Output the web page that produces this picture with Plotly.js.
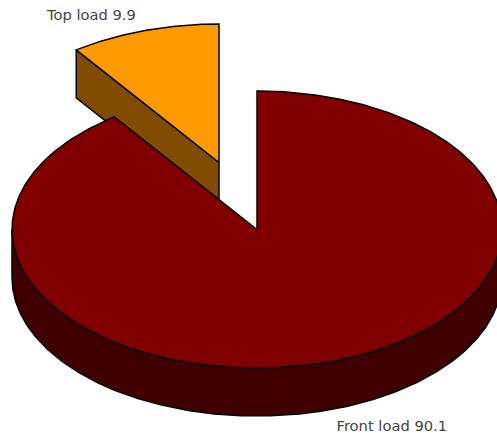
<!DOCTYPE html>
<html>
<head>
<meta charset="utf-8">
<script src="https://cdn.plot.ly/plotly-3.0.1.min.js"></script>
<style>html,body{margin:0;padding:0;background:#fff}#chart{width:497px;height:433px}</style>
</head>
<body>
<div id="chart"></div>
<script>
// Load-type shares, in the order they run clockwise from twelve o'clock
const categories = ['Front load', 'Top load'];
const shares = [90.1, 9.9];
const topColors = ['#800000', '#ff9900'];
const sideColors = ['#400000', '#804c00'];

// Projection of the tilted disc
const cx = 257, cy = 229.5, rx = 245, ry = 138.5, depth = 48;
const explode = [[0, 0], [-38, -67]];
const labelAnchors = [[47, 16], [336.5, 427]];

const total = shares.reduce((a, b) => a + b, 0);
const rad = s => s / total * 2 * Math.PI;

function rim(a0, a1, ox, oy, drop) {
  const n = Math.max(2, Math.ceil(Math.abs(a1 - a0) / 0.01));
  const xs = [], ys = [];
  for (let i = 0; i <= n; i++) {
    const a = a0 + (a1 - a0) * i / n;
    xs.push(cx + ox + rx * Math.sin(a));
    ys.push(cy + oy + drop - ry * Math.cos(a));
  }
  return [xs, ys];
}

function poly(xs, ys, fill) {
  return {
    type: 'scatter', mode: 'lines', x: xs, y: ys, fill: 'toself', fillcolor: fill,
    line: {color: '#000', width: 1.5}, hoverinfo: 'skip', showlegend: false
  };
}

// Exploded wedge: cut face first, then its top, all behind the main wedge
const a1 = rad(shares[0]);
const [ox, oy] = explode[1];
const edgeX = cx + ox + rx * Math.sin(a1), edgeY = cy + oy - ry * Math.cos(a1);
const smallTop = rim(a1, 2 * Math.PI, ox, oy, 0);
const traces = [
  poly([edgeX, cx + ox, cx + ox, edgeX, edgeX],
       [edgeY, cy + oy, cy + oy + depth, edgeY + depth, edgeY], sideColors[1]),
  poly([cx + ox, ...smallTop[0], cx + ox], [cy + oy, ...smallTop[1], cy + oy], topColors[1])
];

// Main wedge: visible outer wall along the front half, then its top
const wallTop = rim(Math.PI / 2, 3 * Math.PI / 2, 0, 0, 0);
const wallBottom = rim(3 * Math.PI / 2, Math.PI / 2, 0, 0, depth);
traces.push(poly([...wallTop[0], ...wallBottom[0], wallTop[0][0]],
                 [...wallTop[1], ...wallBottom[1], wallTop[1][0]], sideColors[0]));
const bigTop = rim(0, a1, 0, 0, 0);
traces.push(poly([cx, ...bigTop[0], cx], [cy, ...bigTop[1], cy], topColors[0]));

// Slice labels, smaller slice first
traces.push({
  type: 'scatter', mode: 'text', cliponaxis: false,
  x: labelAnchors.map(p => p[0]), y: labelAnchors.map(p => p[1]),
  text: [1, 0].map(i => categories[i] + ' ' + shares[i]),
  textposition: 'middle right',
  textfont: {family: 'DejaVu Sans, Verdana, sans-serif', size: 14.7, color: '#444'},
  hoverinfo: 'skip', showlegend: false
});

Plotly.newPlot('chart', traces, {
  width: 497, height: 433,
  margin: {l: 0, r: 0, t: 0, b: 0},
  paper_bgcolor: '#fff', plot_bgcolor: '#fff',
  xaxis: {range: [0, 497], visible: false, fixedrange: true},
  yaxis: {range: [433, 0], visible: false, fixedrange: true}
}, {displayModeBar: false, staticPlot: true});
</script>
</body>
</html>
